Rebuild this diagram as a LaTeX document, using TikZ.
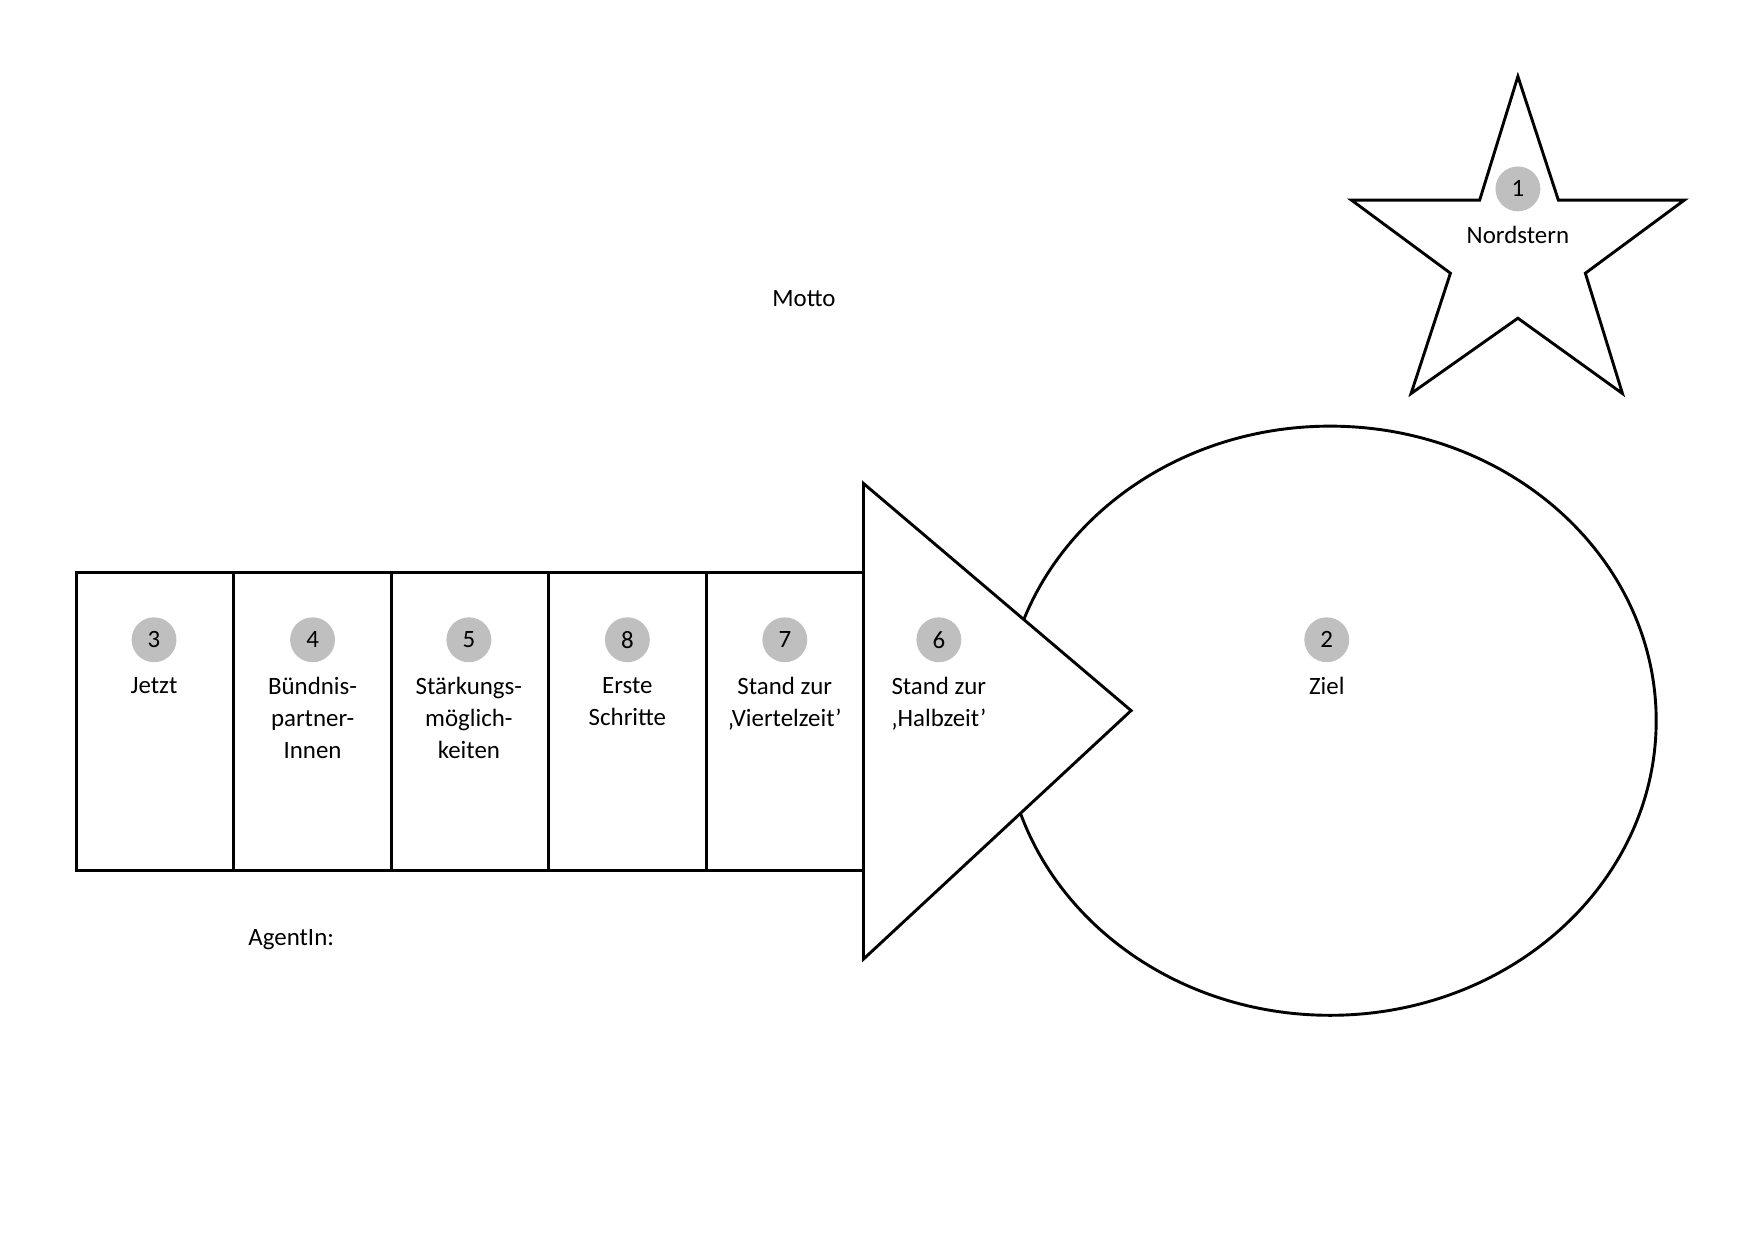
\documentclass[tikz,border=0pt]{standalone}
\usepackage{fontspec}
\setmainfont{Carlito}
\begin{document}
\begin{tikzpicture}[x=0.01904cm,y=-0.01904cm,
  shp/.style={draw=black,line width=1.4pt,fill=white},
  num/.style={circle,fill=gray!50,minimum size=0.76cm,inner sep=0pt,font=\fontsize{12}{14}\selectfont},
  lbl/.style={align=center,font=\fontsize{12}{15.5}\selectfont,anchor=north,inner sep=0pt}]
\useasboundingbox (0,0) rectangle (1560,1103);
\draw[shp] (1183,641) ellipse [x radius=290,y radius=262];
\node[coordinate] (e) at (1183,641) {};
\foreach \a/\b in {68/208,208/348,348/488,488/628,628/768}
  \draw[shp] (\a,509) rectangle (\b,774);
\draw[shp,line join=miter] (768,430) -- (1006,632) -- (768,853) -- cycle;
\draw[shp,line join=miter] (1350,68) -- (1386,178) -- (1498,178) -- (1410,243) -- (1443,350) -- (1350,283) -- (1255,350) -- (1290,243) -- (1202,178) -- (1316,178) -- cycle;
\node[num] (n1) at (1350,168) {1};
\node[lbl] (t1) at (1350,201) {Nordstern};
\node[num] (n3) at (137,569) {3};
\node[lbl] (t3) at (137,602) {Jetzt};
\node[num] (n4) at (278,569) {4};
\node[lbl] (t4) at (278,602) {Bündnis-\\partner-\\Innen};
\node[num] (n5) at (417,569) {5};
\node[lbl] (t5) at (417,602) {Stärkungs-\\möglich-\\keiten};
\node[num] (n8) at (558,569) {8};
\node[lbl] (t8) at (558,602) {Erste\\Schritte};
\node[num] (n7) at (698,569) {7};
\node[lbl] (t7) at (698,602) {Stand zur\\‚Viertelzeit’};
\node[num] (n6) at (835,569) {6};
\node[lbl] (t6) at (835,602) {Stand zur\\‚Halbzeit’};
\node[num] (n2) at (1180,569) {2};
\node[lbl] (t2) at (1180,602) {Ziel};
\node[lbl] (motto) at (715,258) {Motto};
\node[lbl] (agent) at (259,826) {AgentIn:};
\end{tikzpicture}
\end{document}
